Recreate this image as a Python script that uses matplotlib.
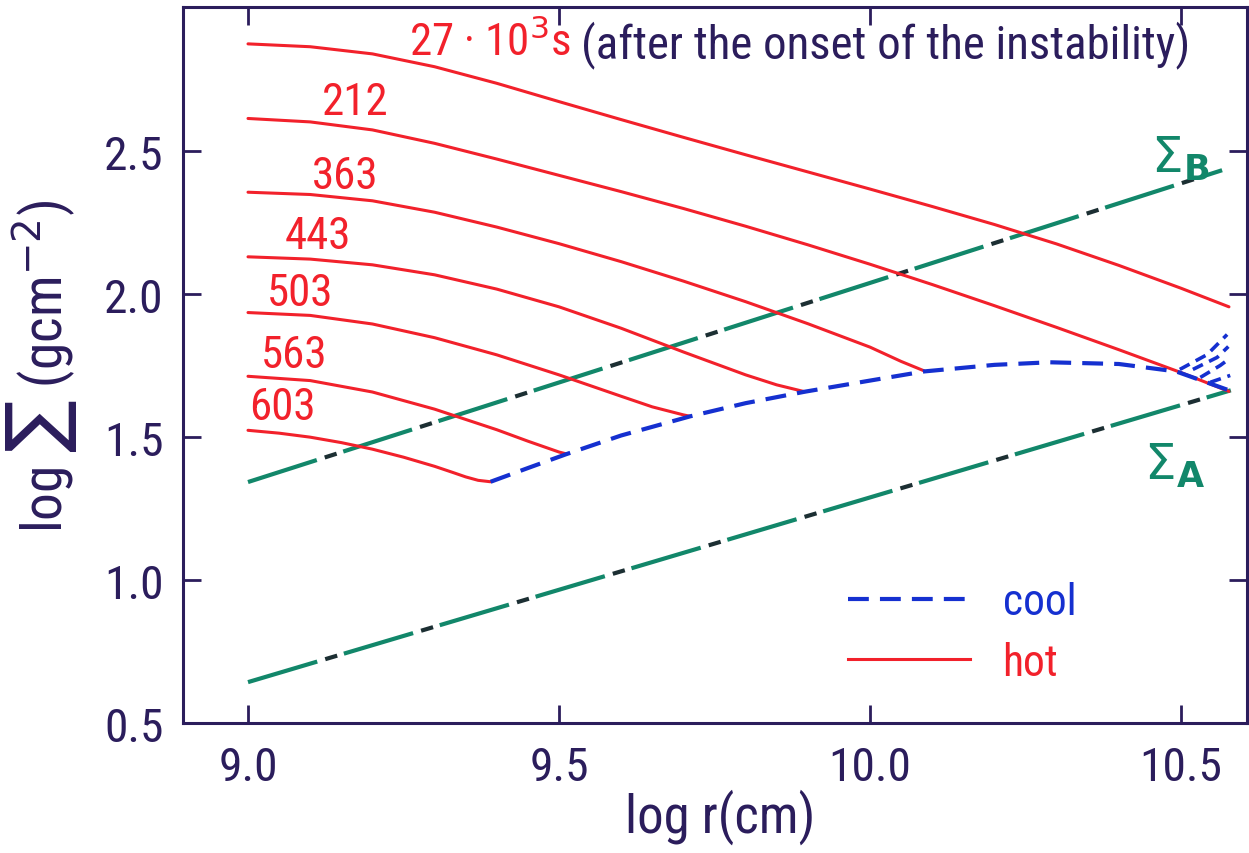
import matplotlib
matplotlib.use('Agg')
import matplotlib.pyplot as plt
from matplotlib import font_manager
from matplotlib.lines import Line2D

# hot branch profiles log Sigma(log r), label = time after onset (10^3 s)
logr_027 = [9.0, 9.1, 9.2, 9.3, 9.4, 9.5, 9.6, 9.7, 9.8, 9.9, 10.0, 10.1, 10.2, 10.3, 10.4, 10.5, 10.577]
sig_027 = [2.876, 2.866, 2.841, 2.796, 2.738, 2.674, 2.611, 2.549, 2.488, 2.428, 2.368, 2.307, 2.244, 2.176, 2.101, 2.021, 1.956]

logr_212 = [9.0, 9.1, 9.2, 9.3, 9.4, 9.5, 9.6, 9.7, 9.8, 9.9, 10.0, 10.1, 10.2, 10.3, 10.4, 10.5, 10.577]
sig_212 = [2.615, 2.603, 2.575, 2.528, 2.473, 2.416, 2.359, 2.300, 2.238, 2.173, 2.105, 2.034, 1.960, 1.884, 1.806, 1.726, 1.660]

logr_363 = [9.0, 9.1, 9.2, 9.3, 9.4, 9.5, 9.6, 9.7, 9.8, 9.9, 10.0, 10.05, 10.087]
sig_363 = [2.357, 2.349, 2.327, 2.287, 2.235, 2.177, 2.114, 2.046, 1.974, 1.897, 1.815, 1.765, 1.732]

logr_443 = [9.0, 9.1, 9.2, 9.3, 9.4, 9.5, 9.6, 9.7, 9.8, 9.85, 9.895]
sig_443 = [2.131, 2.123, 2.103, 2.068, 2.018, 1.956, 1.881, 1.798, 1.718, 1.683, 1.659]

logr_503 = [9.0, 9.1, 9.2, 9.3, 9.4, 9.5, 9.6, 9.65, 9.7, 9.711]
sig_503 = [1.936, 1.926, 1.896, 1.848, 1.788, 1.718, 1.643, 1.606, 1.578, 1.573]

logr_563 = [9.0, 9.1, 9.2, 9.3, 9.4, 9.45, 9.5, 9.511]
sig_563 = [1.713, 1.698, 1.658, 1.598, 1.526, 1.486, 1.448, 1.442]

logr_603 = [9.0, 9.05, 9.1, 9.15, 9.2, 9.25, 9.3, 9.33, 9.35, 9.37, 9.39]
sig_603 = [1.524, 1.514, 1.500, 1.481, 1.458, 1.430, 1.398, 1.376, 1.361, 1.349, 1.344]

hot_labels = ['212', '363', '443', '503', '563', '603']
# where each time label sits (log r, log Sigma)
label_r = [9.172, 9.156, 9.113, 9.084, 9.074, 9.056]
label_s = [2.674, 2.413, 2.204, 2.005, 1.789, 1.605]

# cool branch
logr_cool = [9.39, 9.45, 9.511, 9.6, 9.711, 9.8, 9.895, 10.0, 10.087, 10.2, 10.289, 10.4, 10.492, 10.577]
sig_cool = [1.344, 1.392, 1.440, 1.506, 1.573, 1.619, 1.659, 1.698, 1.730, 1.753, 1.762, 1.756, 1.730, 1.664]

# short cool pieces near the outer edge
fan_r = [[10.498, 10.542, 10.574], [10.519, 10.558, 10.576], [10.531, 10.563, 10.576], [10.547, 10.579]]
fan_s = [[1.737, 1.789, 1.859], [1.737, 1.779, 1.817], [1.709, 1.751, 1.772], [1.692, 1.716]]

# critical surface densities
sigB_r = [9.0, 10.566]
sigB_s = [1.343, 2.434]
sigA_r = [9.0, 10.58]
sigA_s = [0.643, 1.664]

ink = '#2b1d5c'
red = '#f2212b'
blue = '#1530d0'
green = '#12876a'
dark = '#1c2f33'

names = {f.name for f in font_manager.fontManager.ttflist}
fam, k = 'DejaVu Sans', 0.78
for cand, kk in [('Liberation Sans Narrow', 1.0), ('Roboto Condensed', 0.95), ('Open Sans Condensed', 0.95)]:
    if cand in names:
        fam, k = cand, kk
        break
plt.rcParams['font.family'] = [fam, 'DejaVu Sans']
plt.rcParams['lines.scale_dashes'] = False
plt.rcParams['mathtext.fontset'] = 'dejavusans'

fig = plt.figure(figsize=(12.49, 8.54), dpi=100)
ax = fig.add_axes([183 / 1249, 1 - 724 / 854, 1064 / 1249, 716 / 854])

hot = [(logr_027, sig_027), (logr_212, sig_212), (logr_363, sig_363), (logr_443, sig_443),
       (logr_503, sig_503), (logr_563, sig_563), (logr_603, sig_603)]
for r, s in hot:
    ax.plot(r, s, color=red, lw=2.2, solid_capstyle='round', solid_joinstyle='round', zorder=3)

ax.plot(logr_cool, sig_cool, color=blue, lw=3, ls=(0, (15, 8)), zorder=4)
for r, s in zip(fan_r, fan_s):
    ax.plot(r, s, color=blue, lw=2.6, ls=(0, (8, 5)), zorder=4)

# dash-dot lines: green long dashes with dark short dashes in between
for r, s in [(sigB_r, sigB_s), (sigA_r, sigA_s)]:
    ax.plot(r, s, color=green, lw=3, ls=(0, (52, 20)), zorder=2)
    ax.plot(r, s, color=dark, lw=3, ls=(14, (9, 63)), zorder=2)

ax.text(10.498, 2.476, r'$\Sigma_{\mathbf{B}}$', color=green, fontsize=36, ha='center', va='center')
ax.text(10.490, 1.402, r'$\Sigma_{\mathbf{A}}$', color=green, fontsize=36, ha='center', va='center')

for lab, r, s in zip(hot_labels, label_r, label_s):
    ax.text(r, s, lab, color=red, fontsize=34 * k, ha='center', va='center')
ax.text(9.52, 2.885, r'27 · 10$^3$s', color=red, fontsize=34 * k, ha='right', va='center')
ax.text(9.535, 2.876, '(after the onset of the instability)', color=ink, fontsize=35.5 * k,
        ha='left', va='center')

handles = [Line2D([], [], color=blue, lw=3, ls=(0, (15, 8))),
           Line2D([], [], color=red, lw=2.2)]
leg = ax.legend(handles, ['cool', 'hot'], loc='upper left', bbox_to_anchor=(0.625, 0.198),
                frameon=False, fontsize=33 * k, handlelength=2.8, handletextpad=0.75,
                labelspacing=0.42, borderpad=0, borderaxespad=0)
for t, c in zip(leg.get_texts(), [blue, red]):
    t.set_color(c)

ax.set_xlim(8.8955, 10.606)
ax.set_ylim(0.51, 3.005)
ax.set_xticks([9.0, 9.5, 10.0, 10.5])
ax.set_xticklabels(['9.0', '9.5', '10.0', '10.5'])
ax.set_yticks([0.5, 1.0, 1.5, 2.0, 2.5])
ax.set_yticklabels(['0.5', '1.0', '1.5', '2.0', '2.5'])
ax.tick_params(direction='in', length=13, width=2, color=ink, labelcolor=ink,
               labelsize=36 * k, top=True, right=True)
ax.tick_params(axis='y', pad=14)
ax.tick_params(axis='x', pad=16)
for sp in ax.spines.values():
    sp.set_color(ink)
    sp.set_linewidth(2.2)

ax.set_xlabel('log r(cm)', color=ink, fontsize=40 * k)
ax.set_ylabel('log ∑ (gcm$^{-2}$)', color=ink, fontsize=42 * k)
ax.xaxis.set_label_coords(0.505, -0.092)
ax.yaxis.set_label_coords(-0.098, 0.50)

fig.savefig('out.png', dpi=100)
